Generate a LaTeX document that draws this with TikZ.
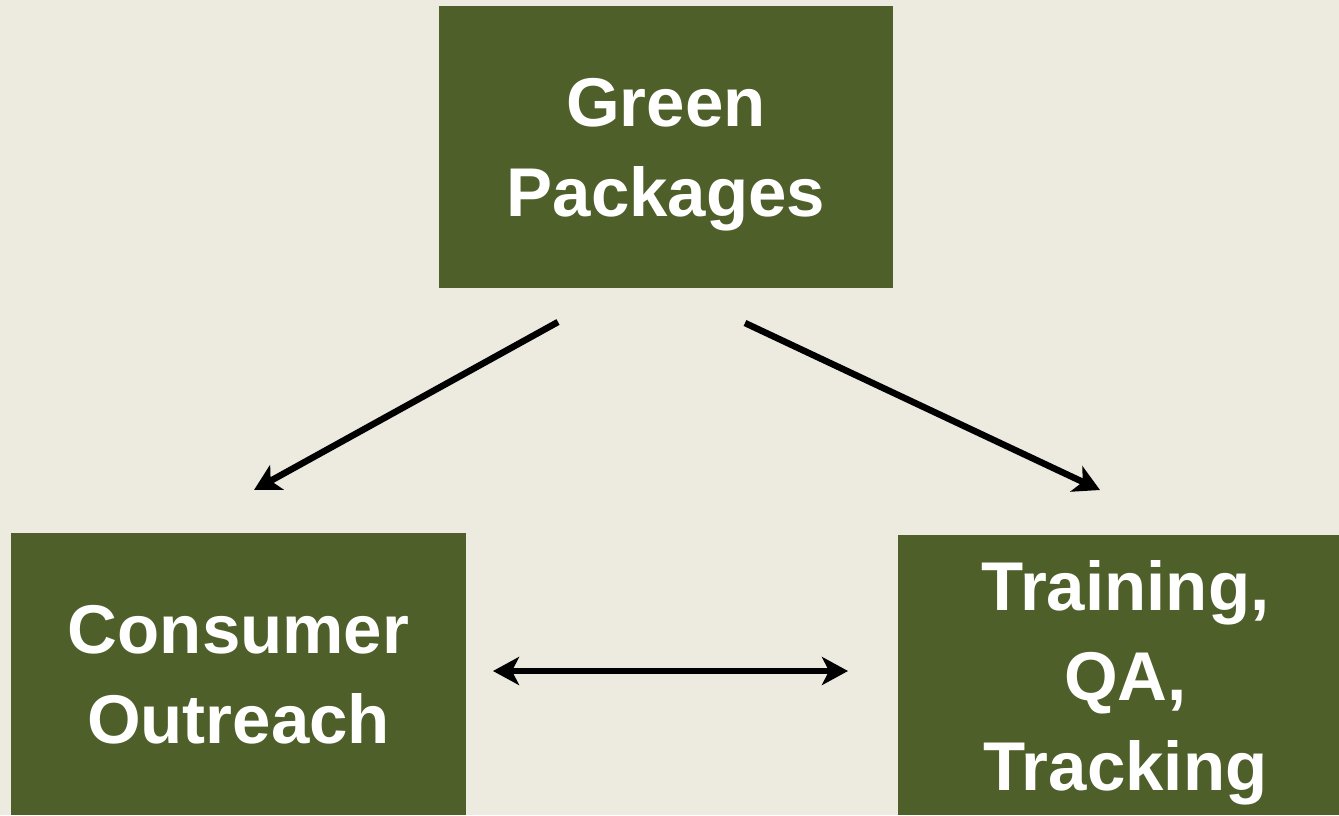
\documentclass[tikz,border=0pt]{standalone}
\usepackage{fontspec}
\setmainfont{Liberation Sans}
\usetikzlibrary{arrows.meta}
\definecolor{bgbeige}{RGB}{237,234,224}
\definecolor{boxgreen}{RGB}{79,95,42}
\tikzset{
  gbox/.style={fill=boxgreen, draw=none, inner sep=0pt, minimum width=455pt, minimum height=282pt,
    text=white, align=center, font=\fontsize{69}{90}\selectfont\bfseries},
  tipshape/.tip={Stealth[length=26pt,width=28pt,inset=7pt]},
  conn/.style={line width=6.5pt, black, -tipshape},
  dconn/.style={line width=6.5pt, black, tipshape-tipshape}
}
\begin{document}
\begin{tikzpicture}[x=1pt,y=-1pt]
\fill[bgbeige] (0,0) rectangle (1339,815);
\useasboundingbox (0,0) rectangle (1339,815);
\node[gbox, minimum width=454pt, text depth=-11pt] (green) at (666,147) {Green\\Packages};
\node[gbox, text depth=-1pt] (consumer) at (238.5,674) {Consumer\\Outreach};
\node[gbox, minimum height=280pt, text depth=-10pt] (training) at (1125.5,675) {Training,\\QA,\\Tracking};
\coordinate (a1s) at (558,322);
\coordinate (a1e) at (254,490);
\coordinate (a2s) at (745,323);
\coordinate (a2e) at (1100,490);
\coordinate (a3s) at (493,671);
\coordinate (a3e) at (848,671);
\draw[conn] (a1s) -- (a1e);
\draw[conn] (a2s) -- (a2e);
\draw[dconn] (a3s) -- (a3e);
\end{tikzpicture}
\end{document}
